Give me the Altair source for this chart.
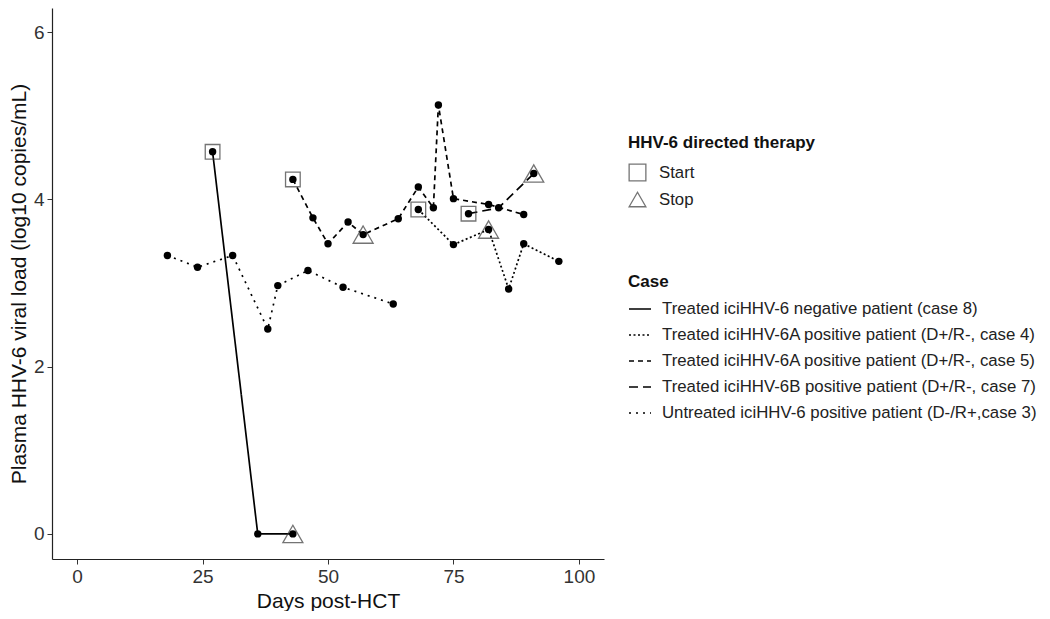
import altair as alt
import pandas as pd

case_names = [
    "Treated iciHHV-6 negative patient (case 8)",
    "Treated iciHHV-6A positive patient (D+/R-, case 4)",
    "Treated iciHHV-6A positive patient (D+/R-, case 5)",
    "Treated iciHHV-6B positive patient (D+/R-, case 7)",
    "Untreated iciHHV-6 positive patient (D-/R+,case 3)",
]
case_dashes = [[1, 0], [2, 2.5], [5, 4], [9, 5], [2, 5]]

case8_days = [27, 36, 43]
case8_load = [4.57, 0.0, 0.0]
case4_days = [68, 75, 82, 86, 89, 96]
case4_load = [3.88, 3.46, 3.64, 2.93, 3.47, 3.26]
case5_days = [43, 47, 50, 54, 57, 64, 68, 71, 72, 75, 82, 89]
case5_load = [4.24, 3.78, 3.47, 3.73, 3.58, 3.77, 4.15, 3.90, 5.13, 4.01, 3.94, 3.82]
case7_days = [78, 84, 91]
case7_load = [3.83, 3.90, 4.31]
case3_days = [18, 24, 31, 38, 40, 46, 53, 63]
case3_load = [3.33, 3.19, 3.33, 2.45, 2.97, 3.15, 2.95, 2.75]

therapy_names = ["Start", "Stop"]
start_days = [27, 43, 68, 78]
start_load = [4.57, 4.24, 3.88, 3.83]
stop_days = [43, 57, 82, 91]
stop_load = [0.0, 3.58, 3.64, 4.31]

rows = []
for name, days, load in zip(
    case_names,
    [case8_days, case4_days, case5_days, case7_days, case3_days],
    [case8_load, case4_load, case5_load, case7_load, case3_load],
):
    for d, v in zip(days, load):
        rows.append({"case": name, "day": d, "load": v})
df = pd.DataFrame(rows)

trows = []
for d, v in zip(start_days, start_load):
    trows.append({"therapy": "Start", "day": d, "load": v})
for d, v in zip(stop_days, stop_load):
    trows.append({"therapy": "Stop", "day": d, "load": v})
tdf = pd.DataFrame(trows)

FONT = "Liberation Sans"
MARK_GREY = "#3a3a3a"

x = alt.X(
    "day:Q",
    scale=alt.Scale(domain=[-5, 105], nice=False, zero=False),
    axis=alt.Axis(values=[0, 25, 50, 75, 100], title="Days post-HCT", grid=False),
)
y = alt.Y(
    "load:Q",
    scale=alt.Scale(domain=[-0.30, 6.29], nice=False, zero=False),
    axis=alt.Axis(values=[0, 2, 4, 6], title="Plasma HHV-6 viral load (log10 copies/mL)", grid=False),
)

lines = alt.Chart(df).mark_line(color="black", strokeWidth=1.7).encode(
    x=x,
    y=y,
    strokeDash=alt.StrokeDash(
        "case:N",
        scale=alt.Scale(domain=case_names, range=case_dashes),
        legend=alt.Legend(
            title="Case",
            orient="none",
            legendX=576,
            legendY=266,
            symbolSize=484,
            symbolStrokeWidth=1.6,
            symbolStrokeColor="black",
            rowPadding=5,
            titlePadding=6,
            labelOffset=10,
        ),
    ),
    order="day:Q",
)

points = alt.Chart(df).mark_circle(color="black", size=55, opacity=1).encode(x=x, y=y)

markers = alt.Chart(tdf).mark_point(filled=False, color=MARK_GREY, strokeWidth=1.3).encode(
    x=x,
    y=y,
    shape=alt.Shape(
        "therapy:N",
        scale=alt.Scale(domain=therapy_names, range=["square", "triangle-up"]),
        legend=alt.Legend(
            title="HHV-6 directed therapy",
            orient="none",
            legendX=576,
            legendY=127,
            symbolSize=280,
            symbolStrokeWidth=1.3,
            symbolStrokeColor=MARK_GREY,
            symbolFillColor="transparent",
            rowPadding=5,
            titlePadding=11,
            labelOffset=12,
        ),
    ),
    size=alt.Size(
        "therapy:N",
        scale=alt.Scale(domain=therapy_names, range=[215, 400]),
        legend=None,
    ),
)

chart = (
    alt.layer(lines, points, markers)
    .resolve_legend(shape="independent", strokeDash="independent")
    .properties(
        width=552,
        height=551,
        autosize=alt.AutoSizeParams(type="none"),
        padding={"left": 44, "top": 0, "right": 438, "bottom": 52},
    )
    .configure_view(stroke=None)
    .configure_axis(
        domainColor="#222",
        domainWidth=1.2,
        tickColor="#333",
        tickSize=5,
        labelFont=FONT,
        labelFontSize=19,
        labelColor="#333",
        labelPadding=3,
        titleFont=FONT,
        titleFontSize=21,
        titleFontWeight="normal",
        titleColor="#111",
        titlePadding=4,
    )
    .configure_legend(
        titleFont=FONT,
        titleFontSize=17,
        titleFontWeight="bold",
        titleColor="#111",
        titleLimit=600,
        labelFont=FONT,
        labelFontSize=16.8,
        labelColor="#222",
        labelLimit=600,
        padding=0,
    )
)

chart.save("out.html", embed_options={"renderer": "svg", "actions": False})
